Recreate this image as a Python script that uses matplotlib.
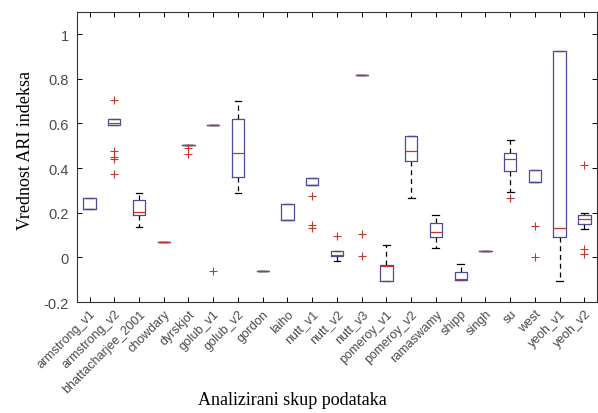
import numpy as np
import matplotlib.pyplot as plt

# ---------------------------
# DATA
# ---------------------------
names = ['armstrong_v1', 'armstrong_v2', 'bhattacharjee_2001', 'chowdary',
         'dyrskjot', 'golub_v1', 'golub_v2', 'gordon', 'laiho', 'nutt_v1',
         'nutt_v2', 'nutt_v3', 'pomeroy_v1', 'pomeroy_v2', 'ramaswamy',
         'shipp', 'singh', 'su', 'west', 'yeoh_v1', 'yeoh_v2']

q1 = [0.215, 0.591, 0.190, 0.067, 0.505, 0.592, 0.360, -0.059, 0.167, 0.326,
      0.007, 0.819, -0.104, 0.430, 0.090, -0.099, 0.030, 0.387, 0.338, 0.090, 0.150]
med = [0.215, 0.600, 0.204, 0.067, 0.505, 0.592, 0.468, -0.059, 0.167, 0.326,
       0.012, 0.819, -0.040, 0.476, 0.116, -0.095, 0.030, 0.441, 0.338, 0.133, 0.170]
q3 = [0.266, 0.622, 0.257, 0.067, 0.505, 0.592, 0.619, -0.059, 0.241, 0.356,
      0.027, 0.819, -0.033, 0.545, 0.152, -0.067, 0.030, 0.467, 0.390, 0.926, 0.190]
whislo = [0.215, 0.591, 0.138, 0.067, 0.505, 0.592, 0.289, -0.059, 0.167, 0.326,
          -0.015, 0.819, -0.104, 0.264, 0.041, -0.099, 0.030, 0.293, 0.338, -0.107, 0.128]
whishi = [0.266, 0.622, 0.289, 0.067, 0.505, 0.592, 0.700, -0.059, 0.241, 0.356,
          0.027, 0.819, 0.056, 0.545, 0.190, -0.030, 0.030, 0.526, 0.390, 0.926, 0.200]
fliers = [[], [0.704, 0.476, 0.449, 0.441, 0.375], [], [], [0.49, 0.465],
          [-0.059], [], [], [], [0.274, 0.145, 0.132], [0.096], [0.105, 0.007],
          [], [], [], [], [], [0.264], [0.141, 0.0], [], [0.412, 0.039, 0.015]]

# boxes where the median sits on the box edge and is not seen
hidden_med = ['armstrong_v1', 'laiho', 'nutt_v1', 'west']

yticks = [-0.2, 0, 0.2, 0.4, 0.6, 0.8, 1]
ytick_labels = ['-0.2', '0', '0.2', '0.4', '0.6', '0.8', '1']

BOX_C = '#4b4b9c'
MED_C = '#c0392b'
TXT_C = '#4a4a4a'

stats = []
for i, n in enumerate(names):
    stats.append(dict(label=n, q1=q1[i], med=med[i], q3=q3[i],
                      whislo=whislo[i], whishi=whishi[i], fliers=fliers[i]))

fig = plt.figure(figsize=(5.98, 4.14), dpi=100)
ax = fig.add_axes([0.129, 0.268, 0.869, 0.701])

bp = ax.bxp(stats, widths=0.5, capwidths=0.28, showfliers=True,
            boxprops=dict(color=BOX_C, linewidth=0.9, zorder=2.1),
            medianprops=dict(color=MED_C, linewidth=0.9, zorder=2.2),
            whiskerprops=dict(color='black', linewidth=0.9, linestyle=(0, (4, 3)), zorder=2),
            capprops=dict(color='black', linewidth=0.9, zorder=2),
            flierprops=dict(marker='+', markeredgecolor=MED_C, markersize=6,
                            markeredgewidth=0.8, linestyle='none'))

for i, n in enumerate(names):
    if n in hidden_med:
        bp['medians'][i].set_color(BOX_C)

ax.set_xlim(0.5, len(names) + 0.5)
ax.set_ylim(-0.2, 1.1)
ax.set_yticks(yticks)
ax.set_yticklabels(ytick_labels, fontsize=10.5, color=TXT_C, family='Liberation Sans')
ax.set_xticks(range(1, len(names) + 1))
ax.set_xticklabels(names, rotation=45, ha='right', rotation_mode='anchor',
                   fontsize=9, color=TXT_C, family='Liberation Sans')

ax.tick_params(direction='in', length=3.5, width=0.7, top=True, right=True)
ax.tick_params(axis='y', pad=6)
ax.tick_params(axis='x', pad=4)
for s in ax.spines.values():
    s.set_linewidth(0.8)
    s.set_color('#333333')

ax.set_xlabel('Analizirani skup podataka', fontsize=13, family='Liberation Serif')
ax.xaxis.set_label_coords(0.415, -0.305)
ax.set_ylabel('Vrednost ARI indeksa', fontsize=13, family='Liberation Serif')
ax.yaxis.set_label_coords(-0.083, 0.524)

fig.savefig('out.png', dpi=100)
